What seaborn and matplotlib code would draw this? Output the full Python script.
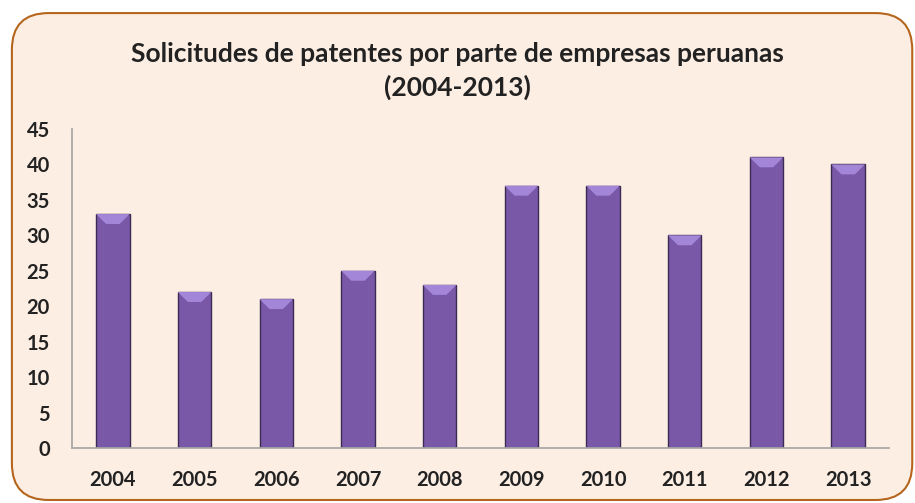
import matplotlib
matplotlib.use("Agg")
import matplotlib.pyplot as plt
from matplotlib.patches import FancyBboxPatch, Polygon
import seaborn as sns
import pandas as pd

years = ["2004", "2005", "2006", "2007", "2008", "2009", "2010", "2011", "2012", "2013"]
solicitudes = [33, 22, 21, 25, 23, 37, 37, 30, 41, 40]

df = pd.DataFrame({"year": years, "n": solicitudes})

sns.set_theme(style="white")
plt.rcParams["font.family"] = ["Lato", "DejaVu Sans"]

fig = plt.figure(figsize=(9.15, 5.03), dpi=100)
fig.patch.set_facecolor("white")

# rounded frame
frame = FancyBboxPatch((0.013, 0.006), 0.984, 0.968,
                       boxstyle="round,pad=0,rounding_size=0.04",
                       transform=fig.transFigure, facecolor="#FDEEE4",
                       edgecolor="#B5651D", linewidth=1.5,
                       mutation_aspect=915 / 503, zorder=-5)
fig.patches.append(frame)

ax = fig.add_axes([72 / 915, 1 - 448 / 503, 817 / 915, (448 - 129) / 503])
ax.set_facecolor("none")
ax.set_zorder(2)

sns.barplot(data=df, x="year", y="n", color="#7A58A8", width=0.41,
            edgecolor="#3B2B52", linewidth=1.0, saturation=1, ax=ax)

# bevel on top of each bar
for p in list(ax.patches):
    x0, w, h = p.get_x(), p.get_width(), p.get_height()
    d = 1.4
    tri = Polygon([(x0, h), (x0 + w, h), (x0 + w * 0.7, h - d), (x0 + w * 0.3, h - d)],
                  closed=True, facecolor="#A486D8", edgecolor="none", zorder=3)
    ax.add_patch(tri)

ax.set_ylim(0, 45)
ax.set_yticks(range(0, 46, 5))
ax.set_xlabel("")
ax.set_ylabel("")
ax.tick_params(axis="both", length=0, labelsize=14.5, colors="#222222")
for lab in ax.get_xticklabels() + ax.get_yticklabels():
    lab.set_fontweight("bold")
ax.tick_params(axis="x", pad=16)
ax.tick_params(axis="y", pad=16)
for s in ["top", "right"]:
    ax.spines[s].set_visible(False)
ax.spines["left"].set_color("#A6A6A6")
ax.spines["bottom"].set_color("#A6A6A6")

fig.text(0.5, 1 - 71 / 503, "Solicitudes de patentes por parte de empresas peruanas\n(2004-2013)",
         ha="center", va="center", fontsize=19, fontweight="bold", color="#222222",
         linespacing=1.45)

fig.savefig("out.png", dpi=100)
